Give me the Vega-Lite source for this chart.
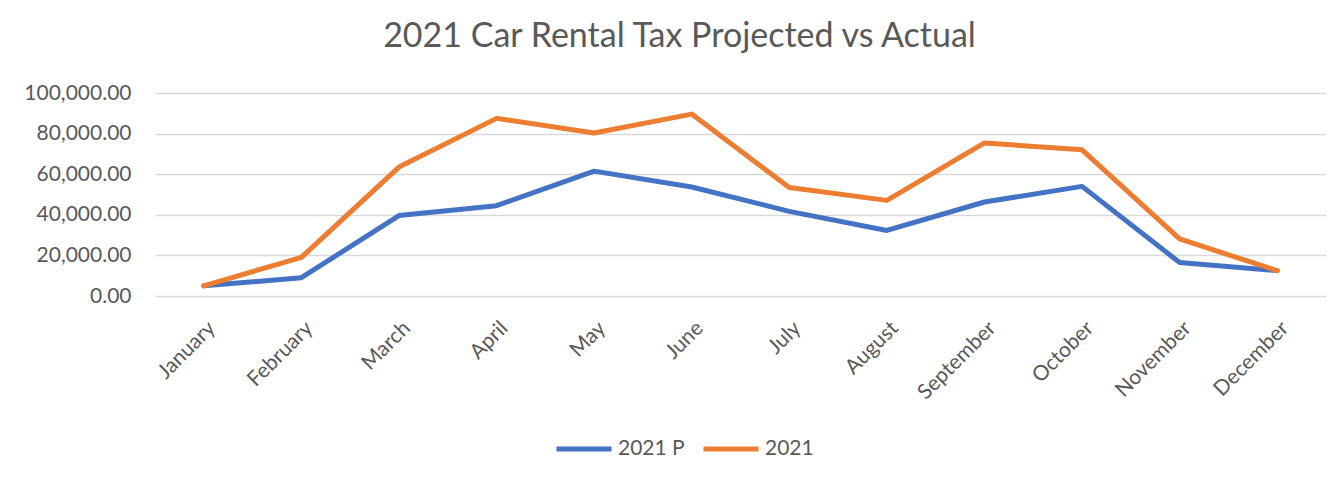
{
  "$schema": "https://vega.github.io/schema/vega-lite/v6.json",
  "autosize": {"type": "none"},
  "width": 1171,
  "height": 203,
  "padding": {"left": 155, "top": 93, "right": 18, "bottom": 193},
  "background": "white",
  "title": {
    "text": "2021 Car Rental Tax Projected vs Actual",
    "anchor": "middle",
    "dx": -61,
    "offset": 28,
    "font": "Lato",
    "fontSize": 34,
    "fontWeight": "normal",
    "color": "#595959"
  },
  "data": {
    "values": [
      {"month": "January", "series": "2021 P", "value": 5000},
      {"month": "February", "series": "2021 P", "value": 9000},
      {"month": "March", "series": "2021 P", "value": 39600},
      {"month": "April", "series": "2021 P", "value": 44500},
      {"month": "May", "series": "2021 P", "value": 61500},
      {"month": "June", "series": "2021 P", "value": 53700},
      {"month": "July", "series": "2021 P", "value": 41700},
      {"month": "August", "series": "2021 P", "value": 32300},
      {"month": "September", "series": "2021 P", "value": 46300},
      {"month": "October", "series": "2021 P", "value": 54000},
      {"month": "November", "series": "2021 P", "value": 16500},
      {"month": "December", "series": "2021 P", "value": 12500},
      {"month": "January", "series": "2021", "value": 5000},
      {"month": "February", "series": "2021", "value": 19000},
      {"month": "March", "series": "2021", "value": 63500},
      {"month": "April", "series": "2021", "value": 87500},
      {"month": "May", "series": "2021", "value": 80300},
      {"month": "June", "series": "2021", "value": 89600},
      {"month": "July", "series": "2021", "value": 53400},
      {"month": "August", "series": "2021", "value": 47100},
      {"month": "September", "series": "2021", "value": 75400},
      {"month": "October", "series": "2021", "value": 72000},
      {"month": "November", "series": "2021", "value": 28100},
      {"month": "December", "series": "2021", "value": 12500}
    ]
  },
  "mark": {"type": "line", "strokeWidth": 5, "strokeCap": "round", "strokeJoin": "round"},
  "encoding": {
    "x": {
      "field": "month",
      "type": "ordinal",
      "sort": ["January","February","March","April","May","June","July","August","September","October","November","December"],
      "scale": {"type": "point", "padding": 0.5},
      "axis": {
        "title": null,
        "domain": false,
        "ticks": false,
        "grid": false,
        "labelAngle": -45,
        "labelPadding": 21,
        "labelFont": "Lato",
        "labelFontSize": 21,
        "labelColor": "#595959"
      }
    },
    "y": {
      "field": "value",
      "type": "quantitative",
      "scale": {"domain": [0, 100000]},
      "axis": {
        "title": null,
        "domain": false,
        "ticks": false,
        "values": [0, 20000, 40000, 60000, 80000, 100000],
        "format": ",.2f",
        "labelPadding": 24,
        "labelFont": "Lato",
        "labelFontSize": 21,
        "labelColor": "#595959",
        "gridColor": "#d9d9d9",
        "gridWidth": 1.5
      }
    },
    "color": {
      "field": "series",
      "type": "nominal",
      "sort": ["2021 P", "2021"],
      "scale": {"domain": ["2021 P", "2021"], "range": ["#4472C4", "#ED7D31"]},
      "legend": {
        "title": null,
        "orient": "none",
        "direction": "horizontal",
        "legendX": 399,
        "legendY": 326,
        "symbolType": "stroke",
        "symbolSize": 3025,
        "symbolStrokeWidth": 5,
        "labelOffset": 4,
        "columnPadding": 8,
        "labelFont": "Lato",
        "labelFontSize": 21,
        "labelColor": "#595959"
      }
    }
  },
  "config": {"view": {"stroke": null}}
}
